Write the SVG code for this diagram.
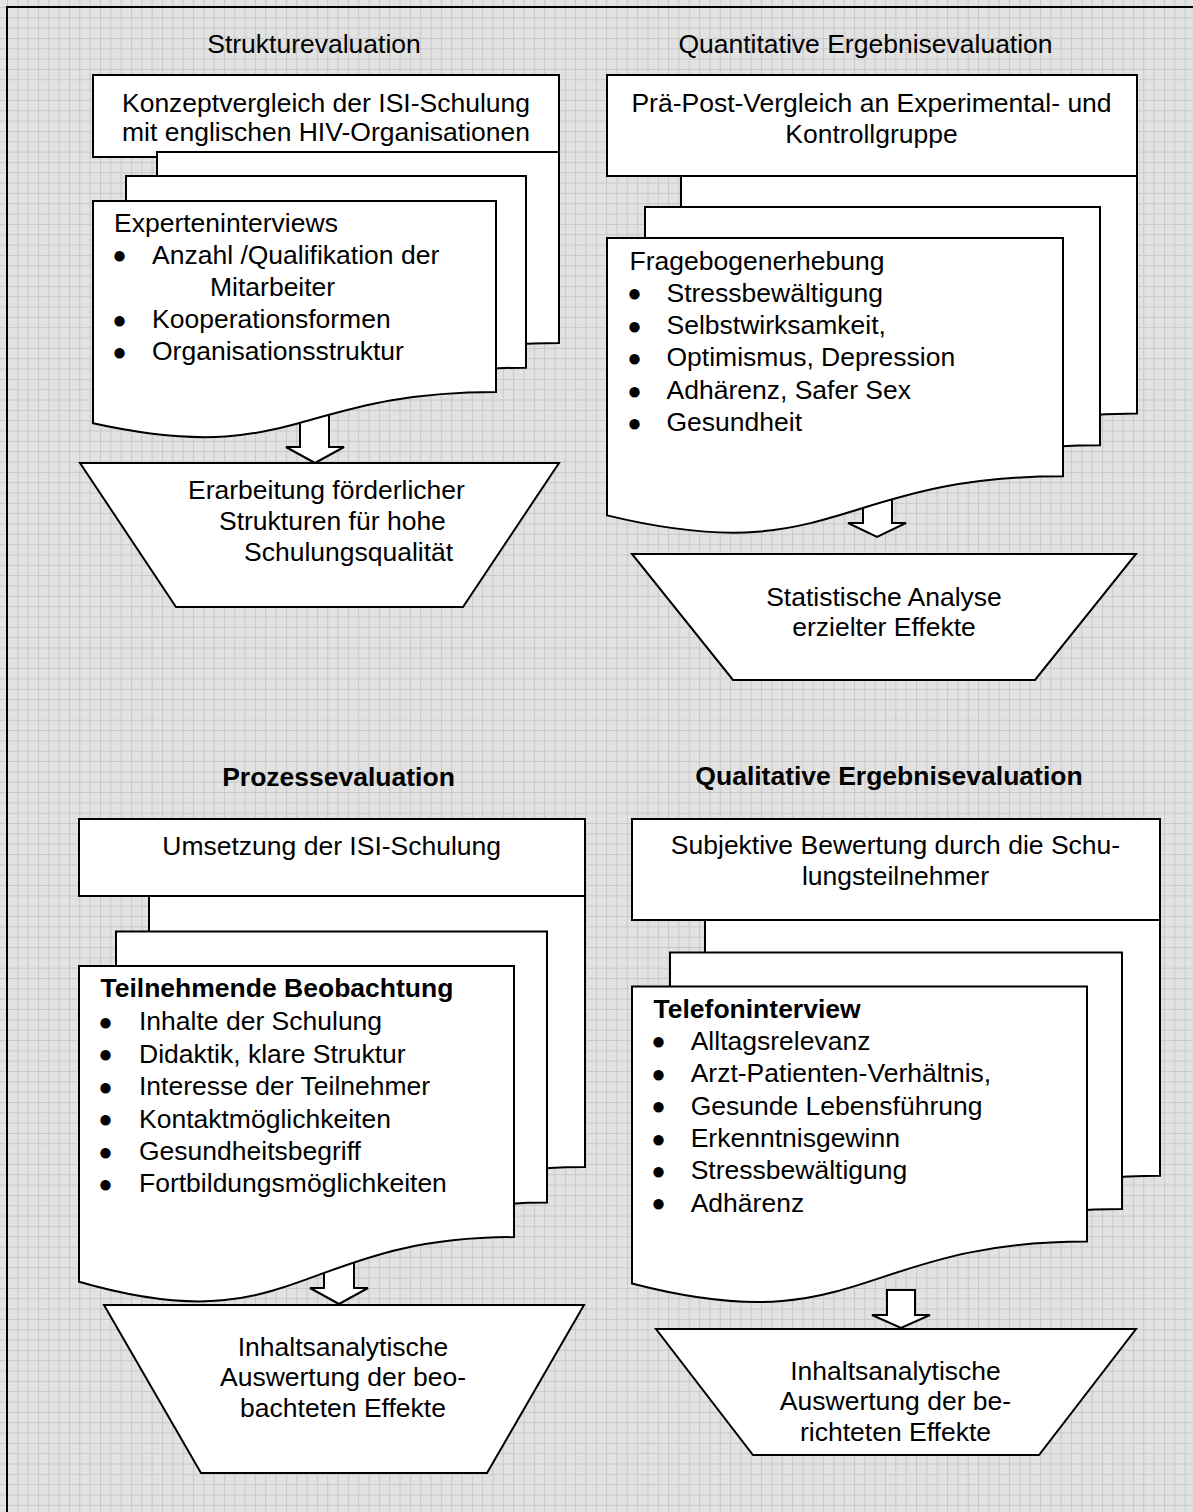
<svg xmlns="http://www.w3.org/2000/svg" width="1193" height="1512" viewBox="0 0 1193 1512">
<style>
.t{font-family:"Liberation Sans",Arial,sans-serif;font-size:26.5px;fill:#000}
.b{font-weight:bold}
.c{text-anchor:middle}
.u{font-family:"Liberation Sans",Arial,sans-serif;font-size:24px;fill:#000;text-anchor:middle}
.s{fill:#fff;stroke:#000;stroke-width:2;stroke-linejoin:miter}
</style>
<defs>
<pattern id="grid" x="7" y="7" width="10.33" height="10.33" patternUnits="userSpaceOnUse">
<rect width="10.33" height="10.33" fill="#e2e2e2"/>
<path d="M0,0.5H10.33M0.5,0V10.33" stroke="#c8c8c8" stroke-width="1"/>
</pattern>
</defs>
<rect x="0" y="0" width="1193" height="1512" fill="url(#grid)"/>
<rect x="7" y="7" width="1220" height="1540" fill="none" stroke="#000" stroke-width="2"/>

<g id="connectors">
<polygon class="s" points="300,410 329,410 329,447 344,447 315,463 286,447 300,447"/>
<polygon class="s" points="863,490 892,490 892,523 906,523 877,537 848,523 863,523"/>
<polygon class="s" points="324,1255 354,1255 354,1288 368,1288 339,1304 310,1288 324,1288"/>
<polygon class="s" points="887,1290 915,1290 915,1315 930,1315 901,1328 872,1315 887,1315"/>
</g>

<!-- Top-left: Strukturevaluation -->
<g id="title-struktur"><text class="t c" x="314" y="53">Strukturevaluation</text></g>
<g id="box-konzept">
<rect class="s" x="93" y="75" width="466" height="82"/>
<text class="t c" x="326" y="112">Konzeptvergleich der ISI-Schulung</text>
<text class="t c" x="326" y="141">mit englischen HIV-Organisationen</text>
</g>
<g id="doc-experten">
<path class="s" d="M157,152H559V342.9C358,342.9 358,418.6 157,374.3Z"/>
<path class="s" d="M126,176H526V367.7C326,367.7 326,443.7 126,399.2Z"/>
<path class="s" d="M93,201H496V391.9C294.5,391.9 294.5,467.6 93,423.3Z"/>
<text class="t" x="114" y="232">Experteninterviews</text>
<text class="u" x="119.5" y="263">●</text>
<text class="t" x="152" y="263.5">Anzahl /Qualifikation der</text>
<text class="t" x="210" y="295.5">Mitarbeiter</text>
<text class="u" x="119.5" y="327.5">●</text>
<text class="t" x="152" y="328">Kooperationsformen</text>
<text class="u" x="119.5" y="359.5">●</text>
<text class="t" x="152" y="360">Organisationsstruktur</text>
</g>
<g id="trap-erarbeitung">
<polygon class="s" points="80,463 559,463 463,607 176,607"/>
<text class="t" x="188" y="499">Erarbeitung förderlicher</text>
<text class="t" x="219" y="530">Strukturen für hohe</text>
<text class="t" x="244" y="561">Schulungsqualität</text>
</g>

<!-- Top-right: Quantitative -->
<g id="title-quant"><text class="t c" x="865.5" y="53">Quantitative Ergebnisevaluation</text></g>
<g id="doc-frage">
<path class="s" d="M681,176H1137V413.4C909,413.4 909,507.5 681,452.5Z"/>
</g>
<g id="box-praepost">
<rect class="s" x="607" y="75" width="530" height="101"/>
<text class="t c" x="871.5" y="112">Prä-Post-Vergleich an Experimental- und</text>
<text class="t c" x="871.5" y="143">Kontrollgruppe</text>
</g>
<g id="doc-frage-front">
<path class="s" d="M645,207H1100V445.2C872.5,445.2 872.5,539.6 645,484.4Z"/>
<path class="s" d="M607,238H1063V476.2C835,476.2 835,570.6 607,515.4Z"/>
<text class="t" x="629.5" y="269.5">Fragebogenerhebung</text>
<text class="u" x="634.5" y="301">●</text>
<text class="t" x="666.5" y="301.5">Stressbewältigung</text>
<text class="u" x="634.5" y="333.5">●</text>
<text class="t" x="666.5" y="334">Selbstwirksamkeit,</text>
<text class="u" x="634.5" y="365.5">●</text>
<text class="t" x="666.5" y="366">Optimismus, Depression</text>
<text class="u" x="634.5" y="398.5">●</text>
<text class="t" x="666.5" y="399">Adhärenz, Safer Sex</text>
<text class="u" x="634.5" y="430.5">●</text>
<text class="t" x="666.5" y="431">Gesundheit</text>
</g>
<g id="trap-statistik">
<polygon class="s" points="632,554 1136,554 1035,680 733,680"/>
<text class="t c" x="884" y="606">Statistische Analyse</text>
<text class="t c" x="884" y="636">erzielter Effekte</text>
</g>

<!-- Bottom-left: Prozessevaluation -->
<g id="title-prozess"><text class="t b c" x="338.5" y="786">Prozessevaluation</text></g>
<g id="doc-beob-back">
<path class="s" d="M149,896H585V1167.1C367,1167.1 367,1274.6 149,1211.7Z"/>
</g>
<g id="box-umsetzung">
<rect class="s" x="79" y="819" width="506" height="77"/>
<text class="t c" x="331.7" y="854.5">Umsetzung der ISI-Schulung</text>
</g>
<g id="doc-beob">
<path class="s" d="M116,931.5H547V1202.6C331.5,1202.6 331.5,1310.1 116,1247.2Z"/>
<path class="s" d="M79,966H514V1237.1C296.5,1237.1 296.5,1344.6 79,1281.7Z"/>
<text class="t b" x="100.5" y="997">Teilnehmende Beobachtung</text>
<text class="u" x="105.5" y="1029.5">●</text>
<text class="t" x="139" y="1030">Inhalte der Schulung</text>
<text class="u" x="105.5" y="1062">●</text>
<text class="t" x="139" y="1062.5">Didaktik, klare Struktur</text>
<text class="u" x="105.5" y="1094.5">●</text>
<text class="t" x="139" y="1095">Interesse der Teilnehmer</text>
<text class="u" x="105.5" y="1127">●</text>
<text class="t" x="139" y="1127.5">Kontaktmöglichkeiten</text>
<text class="u" x="105.5" y="1159.5">●</text>
<text class="t" x="139" y="1160">Gesundheitsbegriff</text>
<text class="u" x="105.5" y="1191.5">●</text>
<text class="t" x="139" y="1192">Fortbildungsmöglichkeiten</text>
</g>
<g id="trap-inhalt-beob">
<polygon class="s" points="104,1305 584,1305 487,1473 201,1473"/>
<text class="t c" x="343" y="1356">Inhaltsanalytische</text>
<text class="t c" x="343" y="1386">Auswertung der beo-</text>
<text class="t c" x="343" y="1417">bachteten Effekte</text>
</g>

<!-- Bottom-right: Qualitative -->
<g id="title-qual"><text class="t b c" x="889" y="785">Qualitative Ergebnisevaluation</text></g>
<g id="doc-tel-back">
<path class="s" d="M705,920H1160V1175.8C932.5,1175.8 932.5,1277.3 705,1218Z"/>
</g>
<g id="box-subjektiv">
<rect class="s" x="632" y="819" width="528" height="101"/>
<text class="t c" x="895.5" y="854">Subjektive Bewertung durch die Schu-</text>
<text class="t c" x="895.5" y="885">lungsteilnehmer</text>
</g>
<g id="doc-tel">
<path class="s" d="M670,952.5H1122V1209.1C896,1209.1 896,1310.9 670,1251.4Z"/>
<path class="s" d="M632,986.5H1087V1241.5C859.5,1241.5 859.5,1342.7 632,1283.5Z"/>
<text class="t b" x="653.5" y="1017.5">Telefoninterview</text>
<text class="u" x="658.5" y="1049">●</text>
<text class="t" x="690.7" y="1049.5">Alltagsrelevanz</text>
<text class="u" x="658.5" y="1081.5">●</text>
<text class="t" x="690.7" y="1082">Arzt-Patienten-Verhältnis,</text>
<text class="u" x="658.5" y="1114">●</text>
<text class="t" x="690.7" y="1114.5">Gesunde Lebensführung</text>
<text class="u" x="658.5" y="1146.5">●</text>
<text class="t" x="690.7" y="1147">Erkenntnisgewinn</text>
<text class="u" x="658.5" y="1178.5">●</text>
<text class="t" x="690.7" y="1179">Stressbewältigung</text>
<text class="u" x="658.5" y="1211">●</text>
<text class="t" x="690.7" y="1211.5">Adhärenz</text>
</g>
<g id="trap-inhalt-bericht">
<polygon class="s" points="656,1329 1136,1329 1039,1455 753,1455"/>
<text class="t c" x="895.5" y="1380">Inhaltsanalytische</text>
<text class="t c" x="895.5" y="1410">Auswertung der be-</text>
<text class="t c" x="895.5" y="1441">richteten Effekte</text>
</g>
</svg>
